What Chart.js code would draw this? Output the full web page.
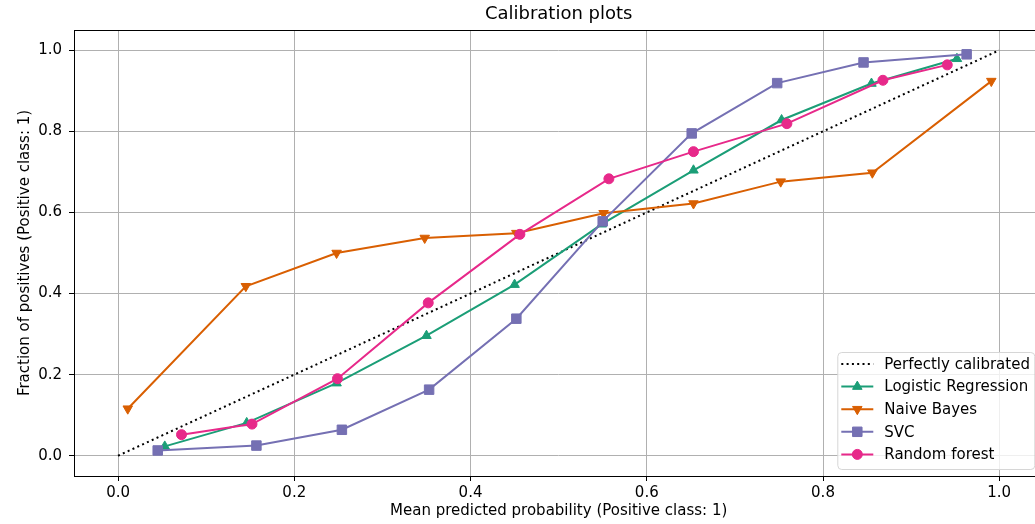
<!DOCTYPE html>
<html lang="en">
<head>
    <meta charset="UTF-8">
    <title>Calibration plots</title>
    <script src="https://cdn.jsdelivr.net/npm/chart.js@4.4.1/dist/chart.umd.min.js"></script>
    <style>
        html, body {
            margin: 0;
            padding: 0;
            background: #fff;
            overflow: hidden;
        }
        #wrap {
            width: 1051px;
            height: 524px;
        }
    </style>
</head>
<body>
    <div id="wrap"><canvas id="calChart" width="1051" height="524"></canvas></div>

    <script>
        // values
        const tickValues = [0.0, 0.2, 0.4, 0.6, 0.8, 1.0];

        const perfectX = [0, 1];
        const perfectY = [0, 1];

        const lrX = [0.053, 0.146, 0.248, 0.350, 0.450, 0.549, 0.653, 0.753, 0.855, 0.952];
        const lrY = [0.023, 0.081, 0.179, 0.296, 0.422, 0.571, 0.704, 0.828, 0.918, 0.979];

        const nbX = [0.011, 0.145, 0.248, 0.348, 0.452, 0.551, 0.653, 0.752, 0.856, 0.991];
        const nbY = [0.116, 0.418, 0.500, 0.537, 0.549, 0.598, 0.622, 0.676, 0.698, 0.924];

        const svcX = [0.045, 0.157, 0.254, 0.353, 0.452, 0.550, 0.651, 0.748, 0.846, 0.963];
        const svcY = [0.013, 0.025, 0.064, 0.163, 0.338, 0.578, 0.795, 0.919, 0.970, 0.990];

        const rfX = [0.072, 0.152, 0.249, 0.352, 0.456, 0.557, 0.653, 0.759, 0.868, 0.941];
        const rfY = [0.052, 0.078, 0.190, 0.377, 0.546, 0.683, 0.750, 0.819, 0.926, 0.964];

        const FONT = '"DejaVu Sans", Verdana, sans-serif';

        function pts(xs, ys) {
            return xs.map((x, i) => ({ x: x, y: ys[i] }));
        }

        function series(label, xs, ys, color, style, rot, radius, order) {
            return {
                label: label,
                data: pts(xs, ys),
                borderColor: color,
                backgroundColor: color,
                borderWidth: 2,
                pointStyle: style,
                rotation: rot,
                pointRadius: radius,
                pointBackgroundColor: color,
                pointBorderColor: color,
                pointBorderWidth: 1,
                order: order
            };
        }

        const datasets = [
            {
                label: 'Perfectly calibrated',
                data: pts(perfectX, perfectY),
                borderColor: '#000',
                borderWidth: 2,
                borderDash: [2, 3.3],
                pointRadius: 0,
                order: 5
            },
            series('Logistic Regression', lrX, lrY, '#1b9e77', 'triangle', 0, 5.5, 4),
            series('Naive Bayes', nbX, nbY, '#d95f02', 'triangle', 180, 5.5, 3),
            series('SVC', svcX, svcY, '#7570b3', 'rect', 0, 6.7, 2),
            series('Random forest', rfX, rfY, '#e7298a', 'circle', 0, 5, 1)
        ];

        // title, top spine and matplotlib style legend
        const decor = {
            id: 'decor',
            afterDraw(chart) {
                const ctx = chart.ctx;
                const ca = chart.chartArea;
                ctx.save();

                ctx.strokeStyle = '#000';
                ctx.lineWidth = 1;
                ctx.strokeRect(ca.left + 0.5, ca.top + 0.5, ca.right - ca.left, ca.bottom - ca.top);

                ctx.fillStyle = '#000';
                ctx.font = '18px ' + FONT;
                ctx.textAlign = 'center';
                ctx.textBaseline = 'middle';
                ctx.fillText('Calibration plots', (ca.left + ca.right) / 2, 14);

                const w = 197, h = 117;
                const bx = ca.right - 9 - w;
                const by = ca.bottom - 7 - h;
                ctx.beginPath();
                ctx.roundRect(bx + 0.5, by + 0.5, w, h, 4);
                ctx.fillStyle = 'rgba(255,255,255,0.8)';
                ctx.fill();
                ctx.strokeStyle = '#d6d6d6';
                ctx.stroke();

                ctx.font = '15px ' + FONT;
                ctx.textAlign = 'left';
                chart.data.datasets.forEach((ds, i) => {
                    const cy = by + 12 + i * 22.6;
                    ctx.save();
                    ctx.strokeStyle = ds.borderColor;
                    ctx.lineWidth = 2;
                    if (ds.borderDash) ctx.setLineDash(ds.borderDash);
                    ctx.beginPath();
                    ctx.moveTo(bx + 4, cy);
                    ctx.lineTo(bx + 36, cy);
                    ctx.stroke();
                    ctx.restore();
                    if (ds.pointRadius > 0 && Chart.helpers && Chart.helpers.drawPoint) {
                        ctx.save();
                        ctx.fillStyle = ds.pointBackgroundColor;
                        ctx.strokeStyle = ds.pointBorderColor;
                        ctx.lineWidth = 1;
                        Chart.helpers.drawPoint(ctx, {
                            pointStyle: ds.pointStyle,
                            rotation: ds.rotation,
                            radius: ds.pointRadius,
                            borderWidth: 1
                        }, bx + 20, cy);
                        ctx.restore();
                    }
                    ctx.fillStyle = '#000';
                    ctx.fillText(ds.label, bx + 47, cy + 1);
                });
                ctx.restore();
            }
        };

        function axisOpts(title, isY) {
            return {
                type: 'linear',
                min: -0.05,
                max: 1.05,
                afterBuildTicks: (scale) => {
                    scale.ticks = tickValues.map(v => ({ value: v }));
                },
                afterFit: (scale) => {
                    if (isY) scale.width = 74; else scale.height = 48;
                },
                grid: {
                    color: '#b0b0b0',
                    lineWidth: 1,
                    drawTicks: true,
                    tickLength: 5,
                    tickColor: '#000',
                    tickWidth: 1
                },
                border: { display: false },
                ticks: {
                    color: '#000',
                    font: { family: FONT, size: 15 },
                    padding: isY ? 7 : 3,
                    maxRotation: 0,
                    autoSkip: false,
                    callback: (v) => Number(v).toFixed(1)
                },
                title: {
                    display: true,
                    text: title,
                    color: '#000',
                    font: { family: FONT, size: 15 },
                    padding: isY ? { top: 16, bottom: 0 } : { top: 0, bottom: 4 }
                }
            };
        }

        new Chart(document.getElementById('calChart').getContext('2d'), {
            type: 'line',
            data: { datasets: datasets },
            options: {
                responsive: false,
                devicePixelRatio: 1,
                animation: false,
                events: [],
                layout: { padding: { top: 30, right: 3, left: 0, bottom: 0 } },
                plugins: {
                    legend: { display: false },
                    tooltip: { enabled: false },
                    title: { display: false }
                },
                scales: {
                    x: axisOpts('Mean predicted probability (Positive class: 1)', false),
                    y: axisOpts('Fraction of positives (Positive class: 1)', true)
                }
            },
            plugins: [decor]
        });
    </script>
</body>
</html>
